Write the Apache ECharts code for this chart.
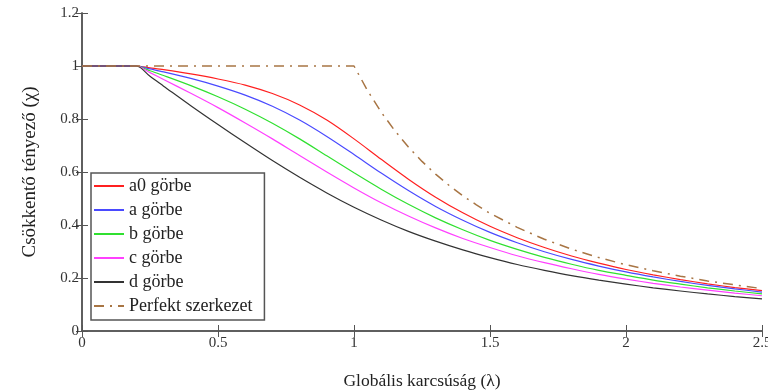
<!DOCTYPE html>
<html>
<head>
<meta charset="utf-8">
<script src="https://cdn.jsdelivr.net/npm/echarts@6/dist/echarts.min.js"></script>
<style>
  html, body {margin: 0; padding: 0; background: #fff;}
  #chart {width: 768px; height: 391px;}
</style>
</head>
<body>
<div id="chart"></div>
<script>
// slenderness values where the curves are read
var lambda = [0, 0.1, 0.2, 0.25, 0.3, 0.4, 0.5, 0.6, 0.7, 0.8, 0.9, 1.0, 1.1, 1.2, 1.3, 1.4, 1.5,
    1.6, 1.7, 1.8, 1.9, 2.0, 2.1, 2.2, 2.3, 2.4, 2.5];
var curveA0 = [1, 1, 1, 0.993, 0.986, 0.970, 0.951, 0.928, 0.896, 0.853, 0.796, 0.725, 0.648, 0.573, 0.505, 0.446, 0.395,
    0.352, 0.315, 0.283, 0.256, 0.232, 0.212, 0.194, 0.178, 0.164, 0.152];
var curveA = [1, 1, 1, 0.989, 0.978, 0.953, 0.924, 0.890, 0.848, 0.796, 0.734, 0.666, 0.596, 0.530, 0.470, 0.418, 0.372,
    0.333, 0.299, 0.270, 0.245, 0.223, 0.204, 0.187, 0.172, 0.159, 0.147];
var curveB = [1, 1, 1, 0.982, 0.964, 0.926, 0.884, 0.837, 0.784, 0.725, 0.661, 0.597, 0.535, 0.478, 0.427, 0.382, 0.342,
    0.308, 0.278, 0.252, 0.229, 0.210, 0.192, 0.177, 0.163, 0.151, 0.140];
var curveC = [1, 1, 1, 0.975, 0.949, 0.897, 0.843, 0.785, 0.725, 0.662, 0.600, 0.540, 0.484, 0.434, 0.389, 0.349, 0.315,
    0.284, 0.258, 0.235, 0.214, 0.196, 0.180, 0.166, 0.154, 0.143, 0.133];
var curveD = [1, 1, 1, 0.961, 0.924, 0.850, 0.779, 0.710, 0.643, 0.580, 0.521, 0.467, 0.419, 0.376, 0.339, 0.306, 0.277,
    0.251, 0.229, 0.209, 0.192, 0.177, 0.163, 0.151, 0.140, 0.130, 0.121];
var lambdaPerfect = [0, 1.0, 1.05, 1.1, 1.15, 1.2, 1.25, 1.3, 1.35, 1.4, 1.45, 1.5, 1.6, 1.7, 1.8, 1.9,
    2.0, 2.1, 2.2, 2.3, 2.4, 2.5];
var perfect = [1, 1, 0.907, 0.826, 0.756, 0.694, 0.640, 0.592, 0.549, 0.510, 0.476, 0.444, 0.391, 0.346, 0.309, 0.277,
    0.250, 0.227, 0.207, 0.189, 0.174, 0.160];
var names = ['a0 görbe', 'a görbe', 'b görbe', 'c görbe', 'd görbe', 'Perfekt szerkezet'];

function pairs(xs, ys) {
    return xs.map(function (x, i) { return [x, ys[i]]; });
}

var font = '"Liberation Serif", "DejaVu Serif", serif';
var axisColor = '#555';

function curve(name, data, color, dash) {
    return {
        name: name,
        type: 'line',
        symbol: 'none',
        smooth: dash ? false : 0.3,
        data: data,
        itemStyle: {color: color},
        lineStyle: {color: color, width: dash ? 1.5 : 1.2, type: dash || 'solid'}
    };
}

var chart = echarts.init(document.getElementById('chart'), null, {renderer: 'canvas'});
chart.setOption({
    animation: false,
    backgroundColor: '#fff',
    grid: {left: 82, right: 6, top: 13, bottom: 60, outerBoundsMode: 'none', containLabel: false},
    legend: {
        orient: 'vertical',
        left: 91,
        top: 173,
        padding: [4, 12, 5, 2],
        backgroundColor: '#fff',
        borderColor: '#555',
        borderWidth: 1.5,
        borderRadius: 0,
        itemWidth: 30,
        itemHeight: 14,
        itemGap: 6,
        itemStyle: {opacity: 0},
        lineStyle: {width: 2},
        textStyle: {fontFamily: font, fontSize: 18, color: '#222'},
        data: names
    },
    xAxis: [{
        type: 'value',
        min: 0, max: 2.5, interval: 0.5,
        name: 'Globális karcsúság (λ)',
        nameLocation: 'middle',
        nameGap: 41,
        nameTextStyle: {fontFamily: font, fontSize: 17.5, color: '#222'},
        axisLine: {onZero: false, lineStyle: {color: axisColor, width: 1.5}},
        axisTick: {inside: true, length: 6, lineStyle: {color: axisColor}},
        axisLabel: {fontFamily: font, fontSize: 15, color: '#333', margin: 5},
        splitLine: {show: false}
    }, {
        type: 'value',
        position: 'top',
        min: 0, max: 2.5, interval: 0.5,
        axisLine: {show: true, lineStyle: {color: axisColor, width: 1.5}},
        axisTick: {inside: true, length: 6, lineStyle: {color: axisColor}},
        axisLabel: {show: false},
        splitLine: {show: false}
    }],
    yAxis: [{
        type: 'value',
        min: 0, max: 1.2, interval: 0.2,
        name: 'Csökkentő tényező (χ)',
        nameLocation: 'middle',
        nameGap: 42,
        nameTextStyle: {fontFamily: font, fontSize: 19, color: '#222'},
        axisLine: {show: true, onZero: false, lineStyle: {color: axisColor, width: 1.5}},
        axisTick: {show: true, inside: true, length: 6, lineStyle: {color: axisColor}},
        axisLabel: {fontFamily: font, fontSize: 15, color: '#333', margin: 3},
        splitLine: {show: false}
    }, {
        type: 'value',
        position: 'right',
        min: 0, max: 1.2, interval: 0.2,
        axisLine: {show: true, lineStyle: {color: axisColor, width: 1.5}},
        axisTick: {show: true, inside: true, length: 6, lineStyle: {color: axisColor}},
        axisLabel: {show: false},
        splitLine: {show: false}
    }],
    series: [
        curve(names[0], pairs(lambda, curveA0), '#ff2020'),
        curve(names[1], pairs(lambda, curveA), '#4a4aff'),
        curve(names[2], pairs(lambda, curveB), '#30e030'),
        curve(names[3], pairs(lambda, curveC), '#ff40ff'),
        curve(names[4], pairs(lambda, curveD), '#333333'),
        curve(names[5], pairs(lambdaPerfect, perfect), '#a87544', [10, 6, 2, 6])
    ]
});
</script>
</body>
</html>
